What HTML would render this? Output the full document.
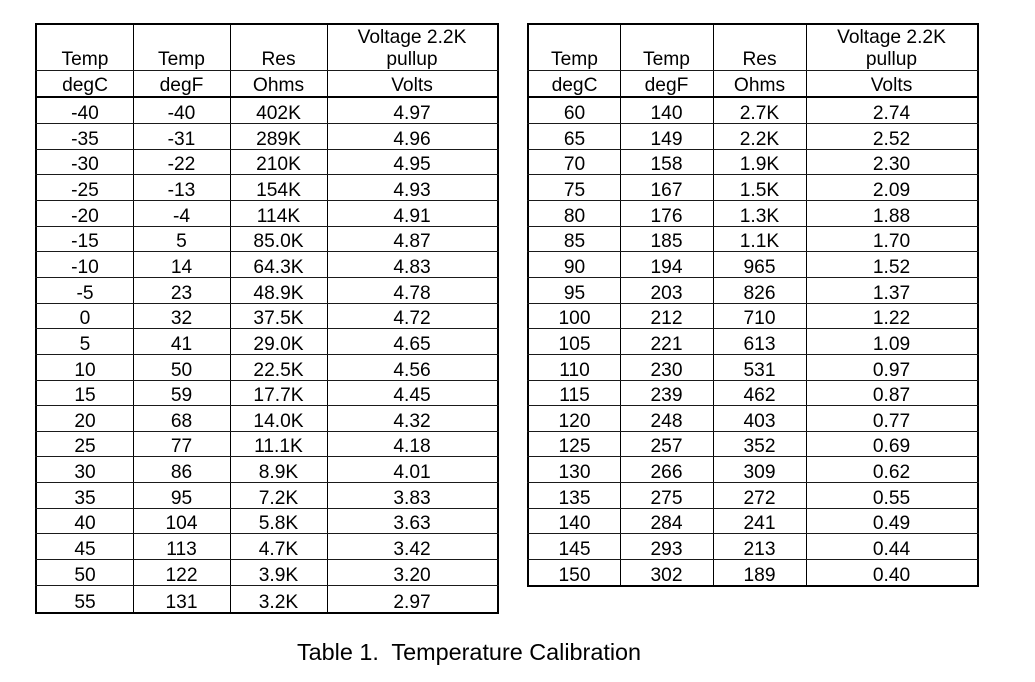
<!DOCTYPE html>
<html>
<head>
<meta charset="utf-8">
<style>
html,body{margin:0;padding:0;background:#fff;}
body{width:1035px;height:682px;position:relative;overflow:hidden;font-family:"Liberation Sans",Arial,sans-serif;color:#000;}
.box{position:absolute;box-sizing:border-box;border:2px solid #000;}
.h{position:absolute;height:1px;background:#1a1a1a;}
.hk{position:absolute;height:2px;background:#000;}
.v{position:absolute;width:1px;background:#000;}
.r{position:absolute;height:26px;line-height:26px;font-size:19.2px;display:flex;white-space:nowrap;}
.r span{display:block;text-align:center;}
.L span:nth-child(1){width:96px}.L span:nth-child(2){width:97px}.L span:nth-child(3){width:97px}.L span:nth-child(4){width:170px}
.R span:nth-child(1){width:91px}.R span:nth-child(2){width:93px}.R span:nth-child(3){width:93px}.R span:nth-child(4){width:171px}
.L{left:37px}.R{left:529px}
.cap{position:absolute;left:219px;width:500px;top:637px;line-height:30px;font-size:23.4px;text-align:center;white-space:pre;}
</style>
</head>
<body>
<!-- Left table frame -->
<div class="box" style="left:35px;top:23px;width:464px;height:591px"></div>
<div class="v" style="left:133px;top:23px;height:590px"></div>
<div class="v" style="left:230px;top:23px;height:590px"></div>
<div class="v" style="left:327px;top:23px;height:590px"></div>
<div class="h" style="left:35px;width:464px;top:70px"></div>
<div class="hk" style="left:35px;width:464px;top:96px"></div>
<div class="h" style="left:35px;width:464px;top:123px"></div>
<div class="h" style="left:35px;width:464px;top:149px"></div>
<div class="h" style="left:35px;width:464px;top:174px"></div>
<div class="h" style="left:35px;width:464px;top:200px"></div>
<div class="h" style="left:35px;width:464px;top:226px"></div>
<div class="h" style="left:35px;width:464px;top:251px"></div>
<div class="h" style="left:35px;width:464px;top:277px"></div>
<div class="h" style="left:35px;width:464px;top:303px"></div>
<div class="h" style="left:35px;width:464px;top:328px"></div>
<div class="h" style="left:35px;width:464px;top:354px"></div>
<div class="h" style="left:35px;width:464px;top:380px"></div>
<div class="h" style="left:35px;width:464px;top:405px"></div>
<div class="h" style="left:35px;width:464px;top:431px"></div>
<div class="h" style="left:35px;width:464px;top:456px"></div>
<div class="h" style="left:35px;width:464px;top:482px"></div>
<div class="h" style="left:35px;width:464px;top:508px"></div>
<div class="h" style="left:35px;width:464px;top:533px"></div>
<div class="h" style="left:35px;width:464px;top:559px"></div>
<div class="h" style="left:35px;width:464px;top:585px"></div>

<!-- Right table frame -->
<div class="box" style="left:527px;top:23px;width:452px;height:564px"></div>
<div class="v" style="left:620px;top:23px;height:563px"></div>
<div class="v" style="left:713px;top:23px;height:563px"></div>
<div class="v" style="left:806px;top:23px;height:563px"></div>
<div class="h" style="left:527px;width:452px;top:70px"></div>
<div class="hk" style="left:527px;width:452px;top:96px"></div>
<div class="h" style="left:527px;width:452px;top:123px"></div>
<div class="h" style="left:527px;width:452px;top:149px"></div>
<div class="h" style="left:527px;width:452px;top:174px"></div>
<div class="h" style="left:527px;width:452px;top:200px"></div>
<div class="h" style="left:527px;width:452px;top:226px"></div>
<div class="h" style="left:527px;width:452px;top:251px"></div>
<div class="h" style="left:527px;width:452px;top:277px"></div>
<div class="h" style="left:527px;width:452px;top:303px"></div>
<div class="h" style="left:527px;width:452px;top:328px"></div>
<div class="h" style="left:527px;width:452px;top:354px"></div>
<div class="h" style="left:527px;width:452px;top:380px"></div>
<div class="h" style="left:527px;width:452px;top:405px"></div>
<div class="h" style="left:527px;width:452px;top:431px"></div>
<div class="h" style="left:527px;width:452px;top:456px"></div>
<div class="h" style="left:527px;width:452px;top:482px"></div>
<div class="h" style="left:527px;width:452px;top:508px"></div>
<div class="h" style="left:527px;width:452px;top:533px"></div>
<div class="h" style="left:527px;width:452px;top:559px"></div>

<!-- Left table headers -->
<div class="r L" style="top:25px"><span></span><span></span><span></span><span>Voltage 2.2K</span></div>
<div class="r L" style="top:47px"><span>Temp</span><span>Temp</span><span>Res</span><span>pullup</span></div>
<div class="r L" style="top:73px"><span>degC</span><span>degF</span><span>Ohms</span><span>Volts</span></div>

<!-- Left table data -->
<div class="r L" style="top:101px"><span>-40</span><span>-40</span><span>402K</span><span>4.97</span></div>
<div class="r L" style="top:127px"><span>-35</span><span>-31</span><span>289K</span><span>4.96</span></div>
<div class="r L" style="top:152px"><span>-30</span><span>-22</span><span>210K</span><span>4.95</span></div>
<div class="r L" style="top:178px"><span>-25</span><span>-13</span><span>154K</span><span>4.93</span></div>
<div class="r L" style="top:204px"><span>-20</span><span>-4</span><span>114K</span><span>4.91</span></div>
<div class="r L" style="top:229px"><span>-15</span><span>5</span><span>85.0K</span><span>4.87</span></div>
<div class="r L" style="top:255px"><span>-10</span><span>14</span><span>64.3K</span><span>4.83</span></div>
<div class="r L" style="top:281px"><span>-5</span><span>23</span><span>48.9K</span><span>4.78</span></div>
<div class="r L" style="top:306px"><span>0</span><span>32</span><span>37.5K</span><span>4.72</span></div>
<div class="r L" style="top:332px"><span>5</span><span>41</span><span>29.0K</span><span>4.65</span></div>
<div class="r L" style="top:358px"><span>10</span><span>50</span><span>22.5K</span><span>4.56</span></div>
<div class="r L" style="top:383px"><span>15</span><span>59</span><span>17.7K</span><span>4.45</span></div>
<div class="r L" style="top:409px"><span>20</span><span>68</span><span>14.0K</span><span>4.32</span></div>
<div class="r L" style="top:434px"><span>25</span><span>77</span><span>11.1K</span><span>4.18</span></div>
<div class="r L" style="top:460px"><span>30</span><span>86</span><span>8.9K</span><span>4.01</span></div>
<div class="r L" style="top:486px"><span>35</span><span>95</span><span>7.2K</span><span>3.83</span></div>
<div class="r L" style="top:511px"><span>40</span><span>104</span><span>5.8K</span><span>3.63</span></div>
<div class="r L" style="top:537px"><span>45</span><span>113</span><span>4.7K</span><span>3.42</span></div>
<div class="r L" style="top:563px"><span>50</span><span>122</span><span>3.9K</span><span>3.20</span></div>
<div class="r L" style="top:590px"><span>55</span><span>131</span><span>3.2K</span><span>2.97</span></div>

<!-- Right table headers -->
<div class="r R" style="top:25px"><span></span><span></span><span></span><span>Voltage 2.2K</span></div>
<div class="r R" style="top:47px"><span>Temp</span><span>Temp</span><span>Res</span><span>pullup</span></div>
<div class="r R" style="top:73px"><span>degC</span><span>degF</span><span>Ohms</span><span>Volts</span></div>

<!-- Right table data -->
<div class="r R" style="top:101px"><span>60</span><span>140</span><span>2.7K</span><span>2.74</span></div>
<div class="r R" style="top:127px"><span>65</span><span>149</span><span>2.2K</span><span>2.52</span></div>
<div class="r R" style="top:152px"><span>70</span><span>158</span><span>1.9K</span><span>2.30</span></div>
<div class="r R" style="top:178px"><span>75</span><span>167</span><span>1.5K</span><span>2.09</span></div>
<div class="r R" style="top:204px"><span>80</span><span>176</span><span>1.3K</span><span>1.88</span></div>
<div class="r R" style="top:229px"><span>85</span><span>185</span><span>1.1K</span><span>1.70</span></div>
<div class="r R" style="top:255px"><span>90</span><span>194</span><span>965</span><span>1.52</span></div>
<div class="r R" style="top:281px"><span>95</span><span>203</span><span>826</span><span>1.37</span></div>
<div class="r R" style="top:306px"><span>100</span><span>212</span><span>710</span><span>1.22</span></div>
<div class="r R" style="top:332px"><span>105</span><span>221</span><span>613</span><span>1.09</span></div>
<div class="r R" style="top:358px"><span>110</span><span>230</span><span>531</span><span>0.97</span></div>
<div class="r R" style="top:383px"><span>115</span><span>239</span><span>462</span><span>0.87</span></div>
<div class="r R" style="top:409px"><span>120</span><span>248</span><span>403</span><span>0.77</span></div>
<div class="r R" style="top:434px"><span>125</span><span>257</span><span>352</span><span>0.69</span></div>
<div class="r R" style="top:460px"><span>130</span><span>266</span><span>309</span><span>0.62</span></div>
<div class="r R" style="top:486px"><span>135</span><span>275</span><span>272</span><span>0.55</span></div>
<div class="r R" style="top:511px"><span>140</span><span>284</span><span>241</span><span>0.49</span></div>
<div class="r R" style="top:537px"><span>145</span><span>293</span><span>213</span><span>0.44</span></div>
<div class="r R" style="top:563px"><span>150</span><span>302</span><span>189</span><span>0.40</span></div>

<div class="cap">Table 1.  Temperature Calibration</div>
</body>
</html>
